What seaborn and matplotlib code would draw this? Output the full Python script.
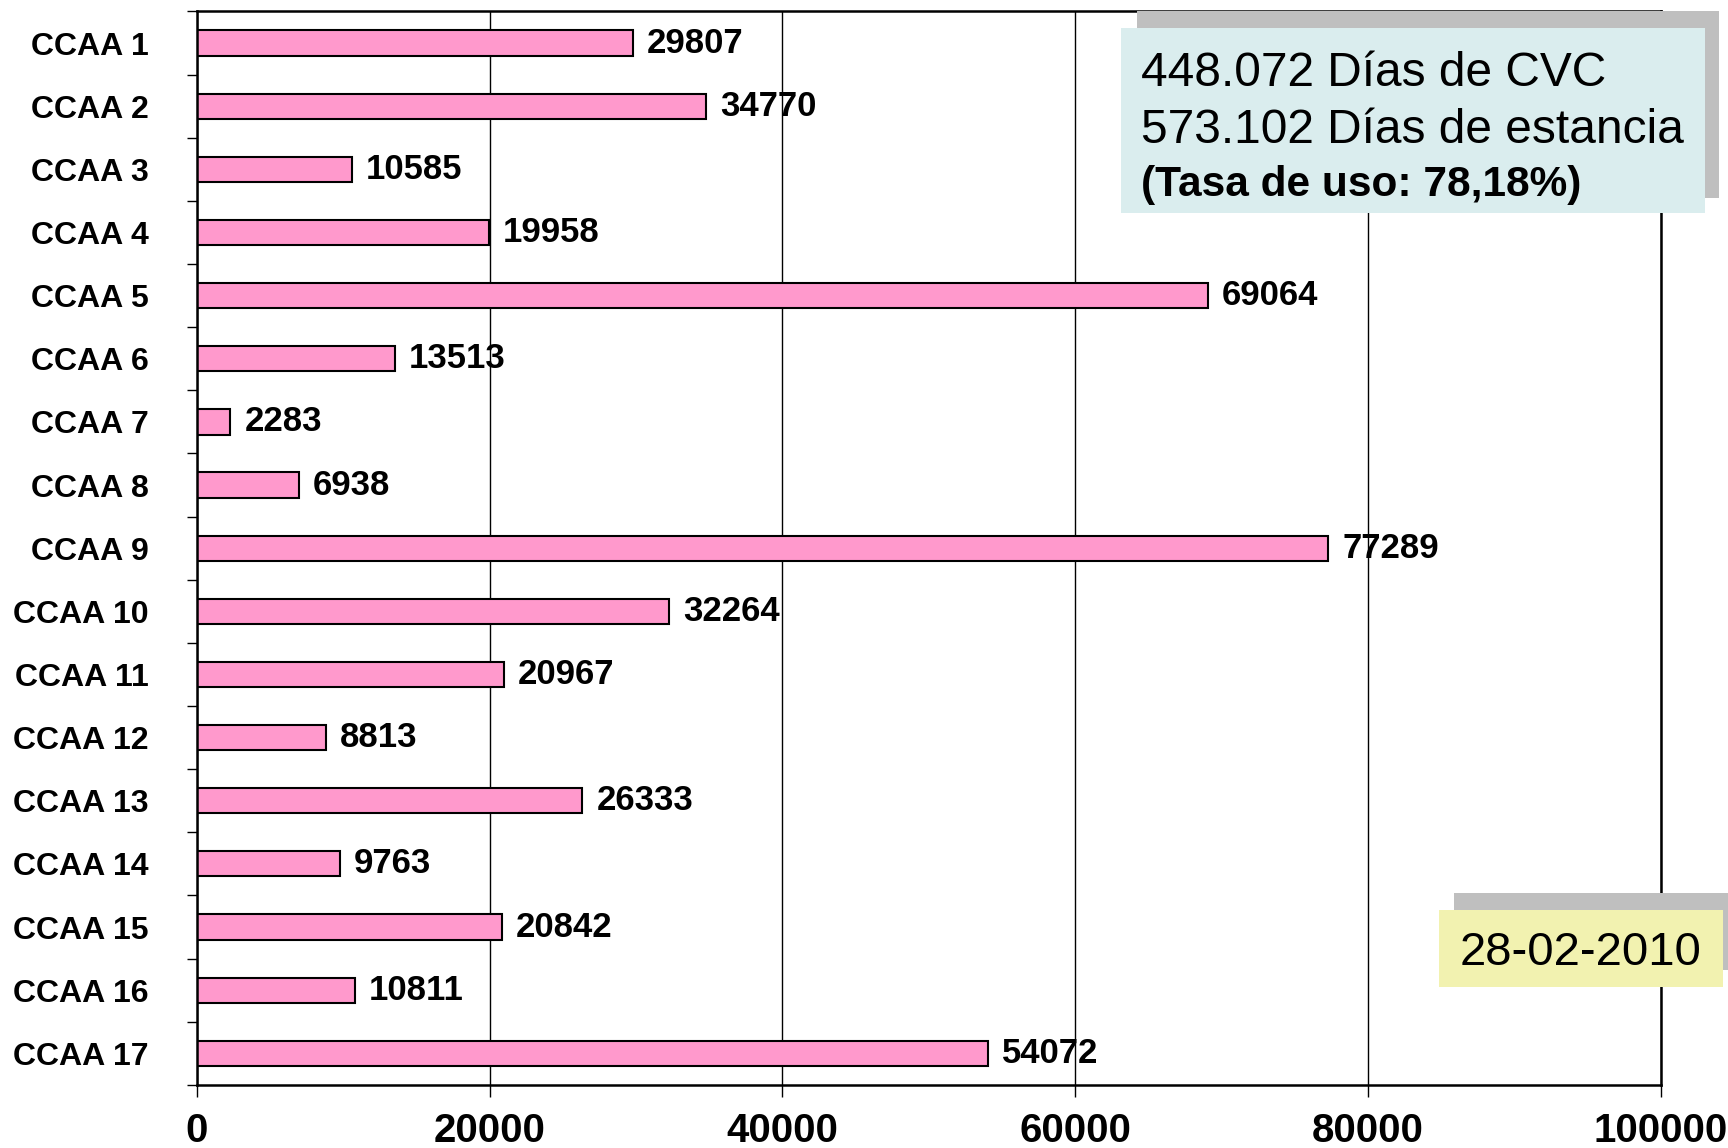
import matplotlib
matplotlib.use("Agg")
import matplotlib.pyplot as plt
from matplotlib.patches import Rectangle
from matplotlib.ticker import FixedLocator
import pandas as pd
import seaborn as sns

# data
regiones = [f"CCAA {i}" for i in range(1, 18)]
dias = [29807, 34770, 10585, 19958, 69064, 13513, 2283, 6938, 77289,
        32264, 20967, 8813, 26333, 9763, 20842, 10811, 54072]
xticks = [0, 20000, 40000, 60000, 80000, 100000]

resumen = ["448.072 Días de CVC", "573.102 Días de estancia"]
tasa = "(Tasa de uso: 78,18%)"
fecha = "28-02-2010"

df = pd.DataFrame({"ccaa": regiones, "dias": dias})

sns.set_style("white")
plt.rcParams["font.family"] = ["Liberation Sans", "DejaVu Sans"]
plt.rcParams["text.color"] = "black"
plt.rcParams["xtick.color"] = "black"
plt.rcParams["ytick.color"] = "black"

fig = plt.figure(figsize=(17.28, 11.48), dpi=100)
ax = fig.add_axes([0.114, 0.055, 0.847, 0.935])

sns.barplot(data=df, x="dias", y="ccaa", orient="h", color="#FF99CC",
            saturation=1, edgecolor="black", linewidth=1.5, width=0.4, ax=ax)

ax.set_xlim(0, 100000)
ax.set_ylim(len(regiones) - 0.5, -0.5)
ax.set_xticks(xticks)
ax.set_xticklabels([str(v) for v in xticks], fontsize=29, fontweight="bold")
ax.set_yticklabels(regiones, fontsize=23, fontweight="bold")
ax.set_xlabel("")
ax.set_ylabel("")

ax.set_axisbelow(True)
ax.grid(axis="x", color="black", linewidth=1)
ax.grid(axis="y", visible=False)
for s in ax.spines.values():
    s.set_visible(True)
    s.set_color("black")
    s.set_linewidth(1.8)

# ticks between categories on y, outward ticks on x
ax.yaxis.set_minor_locator(FixedLocator([i - 0.5 for i in range(len(regiones) + 1)]))
ax.tick_params(axis="y", which="major", length=0, pad=35)
ax.tick_params(axis="y", which="minor", length=7, width=1, color="black", left=True, direction="out")
ax.tick_params(axis="x", which="major", length=8.6, width=1, color="black", bottom=True, direction="out", pad=11)

ax.bar_label(ax.containers[0], labels=[str(v) for v in dias], padding=10,
             fontsize=25, fontweight="bold", color="black")

# summary box with shadow
fig.patches.append(Rectangle((1137 / 1728, 1 - 198 / 1148), 582 / 1728, 187 / 1148,
                             transform=fig.transFigure, facecolor="#BFBFBF", edgecolor="none", zorder=5))
fig.patches.append(Rectangle((1121 / 1728, 1 - 213 / 1148), 584 / 1728, 185 / 1148,
                             transform=fig.transFigure, facecolor="#DAEDEE", edgecolor="none", zorder=6))
fig.text(1141 / 1728, 1 - 86 / 1148, resumen[0], fontsize=34.5, va="baseline", zorder=7)
fig.text(1141 / 1728, 1 - 143 / 1148, resumen[1], fontsize=34.5, va="baseline", zorder=7)
fig.text(1141 / 1728, 1 - 196 / 1148, tasa, fontsize=30.5, fontweight="bold", va="baseline", zorder=7)

# date box with shadow
fig.patches.append(Rectangle((1454 / 1728, 1 - 970 / 1148), 274 / 1728, 77 / 1148,
                             transform=fig.transFigure, facecolor="#BFBFBF", edgecolor="none", zorder=5))
fig.patches.append(Rectangle((1439 / 1728, 1 - 987 / 1148), 284 / 1728, 77 / 1148,
                             transform=fig.transFigure, facecolor="#F2F2B0", edgecolor="none", zorder=6))
fig.text(1581 / 1728, 1 - 953 / 1148, fecha, fontsize=34, ha="center", va="center", zorder=7)

fig.savefig("out.png", dpi=100)
